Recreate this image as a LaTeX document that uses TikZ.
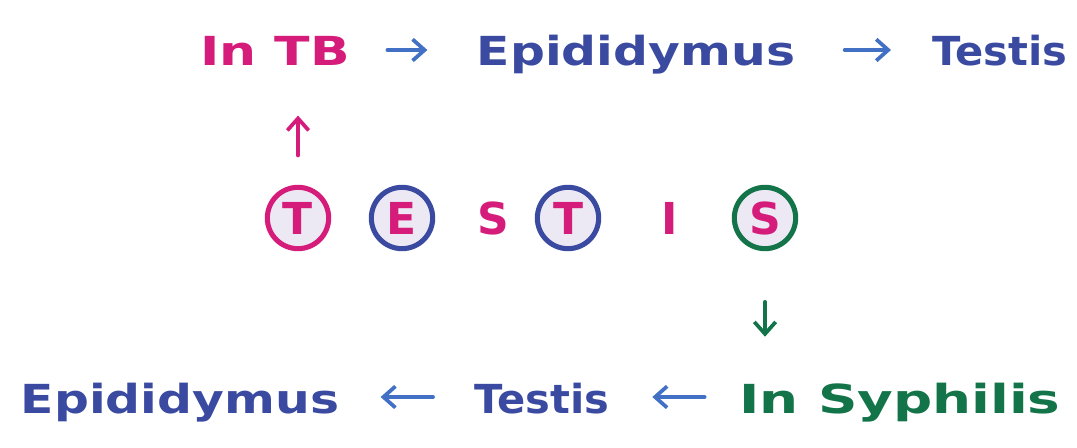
\documentclass[tikz,border=0pt]{standalone}
\usepackage{fontspec}
\setmainfont{DejaVu Sans}
\usepackage{graphicx}
\usetikzlibrary{arrows.meta, positioning}

\definecolor{tbpink}{RGB}{214,28,122}
\definecolor{inkblue}{RGB}{58,74,160}
\definecolor{arrowblue}{RGB}{66,112,196}
\definecolor{syphgreen}{RGB}{18,116,72}
\definecolor{lavender}{RGB}{236,232,244}

% stretch text sideways, like the handwriting
\newcommand{\handw}[2]{\scalebox{#1}[1]{#2}}

\begin{document}
\begin{tikzpicture}[
    x=0.75pt, y=-0.75pt,
    hand/.style={font=\fontsize{30}{34}\selectfont\bfseries, inner sep=0pt,
        text height=24pt, text depth=0pt},
    ring/.style={circle, draw, line width=3.8pt, fill=lavender,
        minimum size=46pt, inner sep=0pt, text=tbpink,
        font=\fontsize{33}{36}\selectfont\bfseries},
    plain/.style={text=tbpink, font=\fontsize{33}{36}\selectfont\bfseries, inner sep=0pt},
    arr/.style={-{Straight Barb[length=9pt,width=16pt]}, line width=2.8pt, line cap=round}
]
    \useasboundingbox (0,0) rectangle (1077,448);

    % top row: TB
    \node[hand, text=tbpink] (intb) at (275,50) {\handw{1.30}{In TB}};
    \node[hand, text=inkblue] (epitop) at (636,50) {\handw{1.22}{Epididymus}};
    \node[hand, text=inkblue] (testop) at (1000,50) {\handw{1.04}{Testis}};

    % the word itself
    \node[ring, draw=tbpink] (c1) at (298,218) {T};
    \node[ring, draw=inkblue] (c2) at (402,218) {E};
    \node[plain] (s1) at (493,218) {S};
    \node[ring, draw=inkblue] (c4) at (568,218) {T};
    \node[plain] (i1) at (670,218) {I};
    \node[ring, draw=syphgreen] (c6) at (765,218) {S};

    % bottom row: syphilis
    \node[hand, text=inkblue] (epibot) at (180,397) {\handw{1.22}{Epididymus}};
    \node[hand, text=inkblue] (tesbot) at (542,397) {\handw{1.04}{Testis}};
    \node[hand, text=syphgreen] (syph) at (900,397) {\handw{1.37}{In Syphilis}};

    \draw[arr, arrowblue, shorten <=28pt, shorten >=37pt] (intb) -- (epitop);
    \draw[arr, arrowblue, shorten <=37pt, shorten >=31pt] (epitop) -- (testop);
    \draw[arr, tbpink, shorten <=22pt, shorten >=37pt] (c1.north) -- (c1.north |- intb.south);
    \draw[arr, syphgreen, shorten <=38pt, shorten >=33pt] (c6.south) -- (c6.south |- syph.north);
    \draw[arr, arrowblue, shorten <=31pt, shorten >=31pt] (tesbot) -- (epibot);
    \draw[arr, arrowblue, shorten <=26pt, shorten >=32pt] (syph) -- (tesbot);
\end{tikzpicture}
\end{document}
